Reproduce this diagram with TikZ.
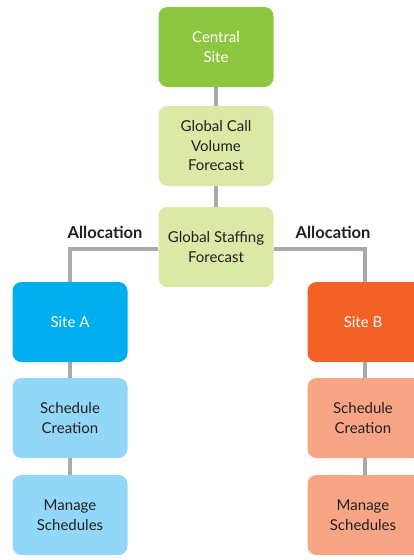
\documentclass[tikz,border=0pt]{standalone}
\usepackage{fontspec}
\setmainfont{Lato}
\definecolor{cgreen}{HTML}{8DC63F}
\definecolor{lgreen}{HTML}{DCE8A6}
\definecolor{cblue}{HTML}{00AEEF}
\definecolor{lblue}{HTML}{92D7F7}
\definecolor{corange}{HTML}{F26125}
\definecolor{lorange}{HTML}{F7A584}
\definecolor{lgray}{HTML}{A7A9AC}
\definecolor{txt}{HTML}{231F20}
\begin{document}
\begin{tikzpicture}[x=1pt,y=-1pt,
  box/.style={rounded corners=9pt,minimum width=115pt,minimum height=80pt,inner sep=0pt,align=center,font=\fontsize{15}{19.5}\selectfont,text=txt},
  dark/.style={box,text=white},
  conn/.style={draw=lgray,line width=4pt},
  lab/.style={font=\bfseries\fontsize{16.5}{19}\selectfont,text=txt}]
\useasboundingbox (0,0) rectangle (414,560);
\begin{scope}
\clip (0,0) rectangle (414,560);
\node[dark,fill=cgreen] (cs) at (216,47) {Central\\Site};
\node[box,fill=lgreen] (gc) at (216,146) {Global Call\\Volume\\Forecast};
\node[box,fill=lgreen] (gs) at (216,247) {Global Staffing\\Forecast};
\node[dark,fill=cblue] (sa) at (70,322) {Site A};
\node[box,fill=lblue] (ca) at (70,418) {Schedule\\Creation};
\node[box,fill=lblue] (ma) at (70,515) {Manage\\Schedules};
\node[dark,fill=corange] (sb) at (365,322) {\hspace*{-4pt}Site B};
\node[box,fill=lorange] (cb) at (365,418) {\hspace*{-4pt}Schedule\\\hspace*{-4pt}Creation};
\node[box,fill=lorange] (mb) at (365,515) {\hspace*{-4pt}Manage\\\hspace*{-4pt}Schedules};
\end{scope}
\draw[conn] (cs.south) -- (gc.north);
\draw[conn] (gc.south) -- (gs.north);
\draw[conn] (gs.west |- 0,249) -| (sa.north);
\draw[conn] (gs.east |- 0,249) -| (sb.north);
\draw[conn] (sa.south) -- (ca.north);
\draw[conn] (ca.south) -- (ma.north);
\draw[conn] (sb.south) -- (cb.north);
\draw[conn] (cb.south) -- (mb.north);
\node[lab] (la) at (105,232) {Allocation};
\node[lab] (lb) at (333,232) {Allocation};
\end{tikzpicture}
\end{document}
